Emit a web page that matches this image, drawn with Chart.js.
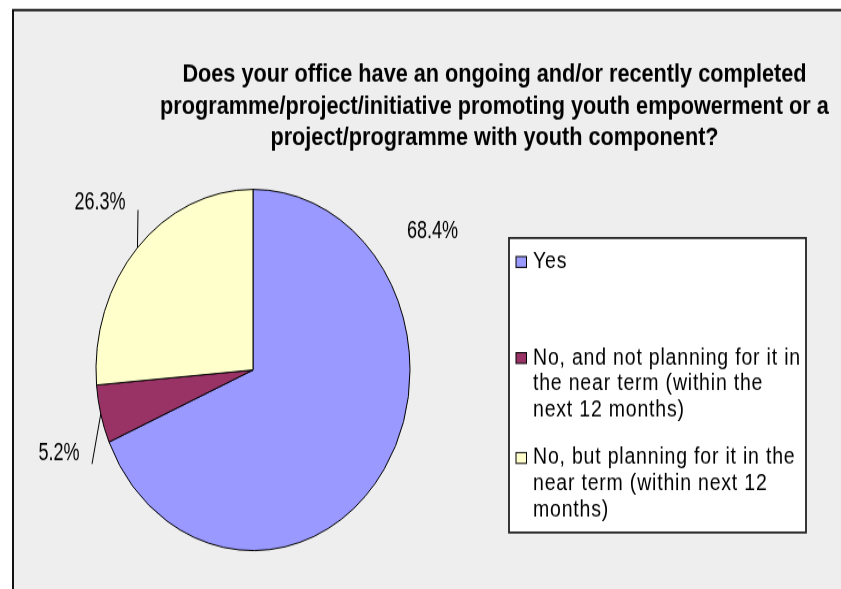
<!DOCTYPE html>
<html><head><meta charset="utf-8">
<script src="https://cdn.jsdelivr.net/npm/chart.js@4.4.0/dist/chart.umd.min.js"></script>
<style>
html,body{margin:0;padding:0;background:#fff;overflow:hidden;width:841px;height:589px}
#wrap{width:841px;height:512px;transform:scaleY(1.150390625);transform-origin:0 0}
canvas{display:block}
</style></head><body>
<div id="wrap"><canvas id="c" width="841" height="512"></canvas></div>
<script>
// ---- data ----
const categories = [
  'Yes',
  'No, and not planning for it in the near term (within the next 12 months)',
  'No, but planning for it in the near term (within next 12 months)'
];
const values = [68.4, 5.2, 26.3];
const colors = ['#9999ff', '#993366', '#ffffcc'];
const titleLines = [
  'Does your office have an ongoing and/or recently completed',
  'programme/project/initiative promoting youth empowerment or a',
  'project/programme with youth component?'
];

// ---- layout / style (not data) ----
const labelOffsets = [[179.5, -120.6], [-194, 72.2], [-153, -145.8]]; // label centre relative to pie centre
const leaderEnds = [null, [-161, 81.7], [-115, -139.1]];              // outer end of leader lines
const legendItemY = [227.7, 311.2, 398.1];
const legendLineH = 22.6;

const FONT = '"Liberation Sans", Arial, sans-serif';

const decor = {
  id: 'decor',
  beforeDraw(chart) {
    const ctx = chart.ctx;
    ctx.save();
    ctx.fillStyle = '#ffffff';
    ctx.fillRect(0, 0, chart.width, chart.height);
    ctx.fillStyle = '#eeeeee';
    ctx.fillRect(13, 8.7, chart.width + 20, chart.height + 20);
    ctx.strokeStyle = '#111';
    ctx.lineWidth = 2;
    ctx.beginPath();
    ctx.moveTo(13, chart.height + 20);
    ctx.lineTo(13, 8.7);
    ctx.lineTo(chart.width + 20, 8.7);
    ctx.stroke();
    ctx.restore();
  },
  afterDatasetsDraw(chart) {
    const ctx = chart.ctx;
    const meta = chart.getDatasetMeta(0);
    const arc0 = meta.data[0];
    const cx = arc0.x, cy = arc0.y;
    ctx.save();
    ctx.fillStyle = '#000';
    ctx.strokeStyle = '#000';
    ctx.lineWidth = 1;
    meta.data.forEach((arc, i) => {
      const mid = (arc.startAngle + arc.endAngle) / 2;
      const r = arc.outerRadius;
      if (leaderEnds[i]) {
        ctx.beginPath();
        ctx.moveTo(cx + r * Math.cos(mid), cy + r * Math.sin(mid));
        ctx.lineTo(cx + leaderEnds[i][0], cy + leaderEnds[i][1]);
        ctx.stroke();
      }
      const txt = values[i].toFixed(1) + '%';
      ctx.save();
      ctx.translate(cx + labelOffsets[i][0], cy + labelOffsets[i][1]);
      ctx.scale(0.82, 1);
      ctx.font = '22px ' + FONT;
      ctx.textAlign = 'center';
      ctx.textBaseline = 'middle';
      ctx.fillText(txt, 0, 0);
      ctx.restore();
    });
    ctx.restore();
  },
  afterDraw(chart) {
    const ctx = chart.ctx;
    ctx.save();
    // title
    ctx.fillStyle = '#000';
    ctx.font = 'bold 21.7px ' + FONT;
    ctx.textAlign = 'center';
    ctx.textBaseline = 'middle';
    const ty = [65.2, 93.0, 120.0];
    titleLines.forEach((t, i) => ctx.fillText(t, 494.5, ty[i]));
    // legend box
    ctx.fillStyle = '#ffffff';
    ctx.fillRect(509, 206.9, 297, 256);
    ctx.strokeStyle = '#222';
    ctx.lineWidth = 1.8;
    ctx.strokeRect(509, 206.9, 297, 256);
    ctx.font = '19.5px ' + FONT;
    ctx.letterSpacing = '0.8px';
    ctx.textAlign = 'left';
    const ds = chart.data.datasets[0];
    chart.data.labels.forEach((lab, i) => {
      const y0 = legendItemY[i];
      ctx.fillStyle = ds.backgroundColor[i];
      ctx.fillRect(516, y0 - 4.7, 10.5, 9.4);
      ctx.strokeStyle = '#000';
      ctx.lineWidth = 1;
      ctx.strokeRect(516, y0 - 4.7, 10.5, 9.4);
      // wrap
      const words = lab.split(' ');
      const lines = [];
      let cur = '';
      words.forEach(w => {
        const test = cur ? cur + ' ' + w : w;
        if (ctx.measureText(test).width > 270 && cur) { lines.push(cur); cur = w; }
        else cur = test;
      });
      if (cur) lines.push(cur);
      ctx.fillStyle = '#000';
      lines.forEach((ln, k) => ctx.fillText(ln, 533, y0 + k * legendLineH));
    });
    ctx.letterSpacing = '0px';
    ctx.restore();
  }
};

new Chart(document.getElementById('c'), {
  type: 'pie',
  data: {
    labels: categories,
    datasets: [{
      data: values,
      backgroundColor: colors,
      borderColor: '#000',
      borderWidth: 1,
      hoverOffset: 0,
      offset: 0
    }]
  },
  options: {
    responsive: false,
    devicePixelRatio: 1,
    animation: false,
    events: [],
    layout: { padding: { left: 95.5, right: 430.5, top: 164.1, bottom: 32.9 } },
    plugins: {
      legend: { display: false },
      title: { display: false },
      tooltip: { enabled: false }
    }
  },
  plugins: [decor]
});
</script>
</body></html>
